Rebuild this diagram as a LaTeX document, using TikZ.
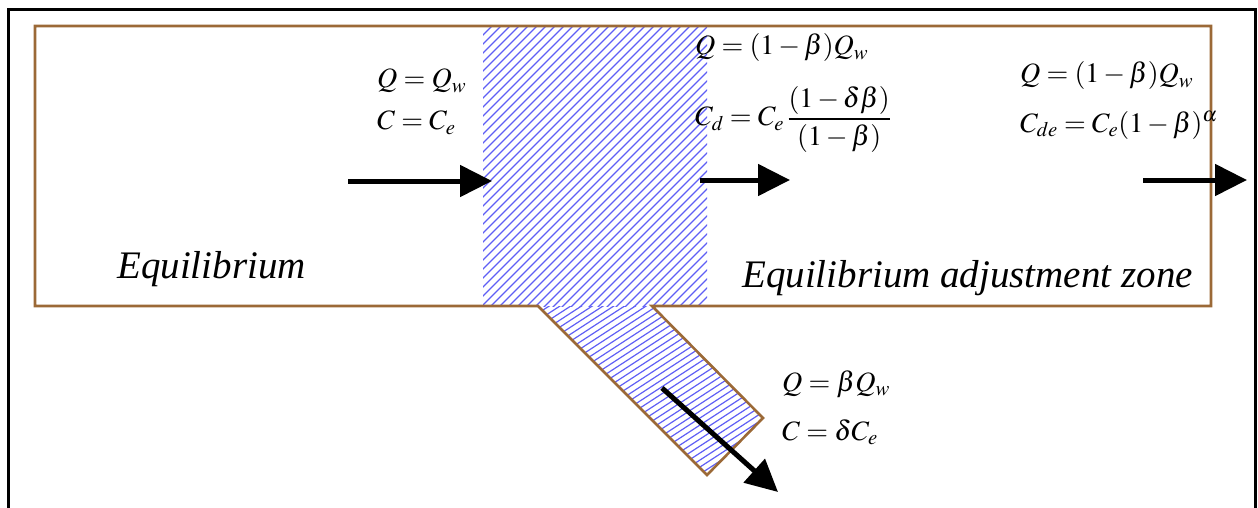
\documentclass[tikz,border=0pt]{standalone}
\usepackage{mathptmx}
\usepackage{fontspec}
\setmainfont{Liberation Serif}
\usetikzlibrary{arrows.meta}
\definecolor{wallbrown}{RGB}{155,105,55}
\definecolor{hatchblue}{RGB}{95,95,245}
\tikzset{
  wall/.style={draw=wallbrown, line width=2.6pt, line join=miter},
  frame/.style={draw=black, line width=3.5pt},
  hatchline/.style={draw=hatchblue, line width=1.2pt},
  flow/.style={draw=black, line width=5pt, -{Triangle[length=32pt,width=31pt]}},
  eq/.style={anchor=base west, inner sep=0pt, font=\fontsize{28}{33}\selectfont},
  zone/.style={anchor=base west, inner sep=0pt, font=\fontsize{39}{46}\selectfont\itshape},
}
\begin{document}
\begin{tikzpicture}[x=1pt,y=-1pt]
\useasboundingbox (0,0) rectangle (1258,508);
% hatched mixing region (main channel part)
\begin{scope}
  \clip (483,27) rectangle (707,306);
  \foreach \c in {500,509,...,1020}{
    \draw[hatchline] (\c-520,520) -- (\c,0);
  }
\end{scope}
% hatched branch part (shallower hatching)
\begin{scope}
  \clip (538,306) -- (652,306) -- (763,418) -- (707,475) -- cycle;
  \foreach \c in {600,607,...,1000}{
    \draw[hatchline] (500,\c-325) -- (800,\c-520);
  }
\end{scope}
% channel outline
\draw[wall] (35,26) -- (1211,26) -- (1211,306) -- (652,306) -- (763,418) -- (707,475) -- (538,306) -- (35,306) -- cycle;
% outer frame (open at bottom)
\draw[frame] (8.5,508) -- (8.5,9.5) -- (1255.5,9.5) -- (1255.5,508);
% arrows
\coordinate (a1s) at (348,181); \coordinate (a1e) at (492,181);
\coordinate (a2s) at (700,180); \coordinate (a2e) at (790,180);
\coordinate (a3s) at (1143,180); \coordinate (a3e) at (1247,180);
\coordinate (a4s) at (662,388); \coordinate (a4e) at (778,492);
\draw[flow] (a1s) -- (a1e);
\draw[flow] (a2s) -- (a2e);
\draw[flow] (a3s) -- (a3e);
\draw[flow] (a4s) -- (a4e);
% labels
\node[eq] (q1) at (377,88) {$Q=Q_{w}$};
\node[eq] (c1) at (377,130) {$C=C_{e}$};
\node[eq] (q2) at (695,55) {$Q=(1-\beta)Q_{w}$};
\node[eq] (c2) at (695,126) {$\displaystyle C_{d}=C_{e}\,\frac{(1-\delta\beta)}{(1-\beta)}$};
\node[eq] (q3) at (1020,83) {$Q=(1-\beta)Q_{w}$};
\node[eq] (c3) at (1020,132) {$C_{de}=C_{e}(1-\beta)^{\alpha}$};
\node[eq] (q4) at (782,391) {$Q=\beta Q_{w}$};
\node[eq] (c4) at (782,440) {$C=\delta C_{e}$};
\node[zone] (z1) at (117,278) {Equilibrium};
\node[zone] (z2) at (742,287) {Equilibrium adjustment zone};
\end{tikzpicture}
\end{document}
